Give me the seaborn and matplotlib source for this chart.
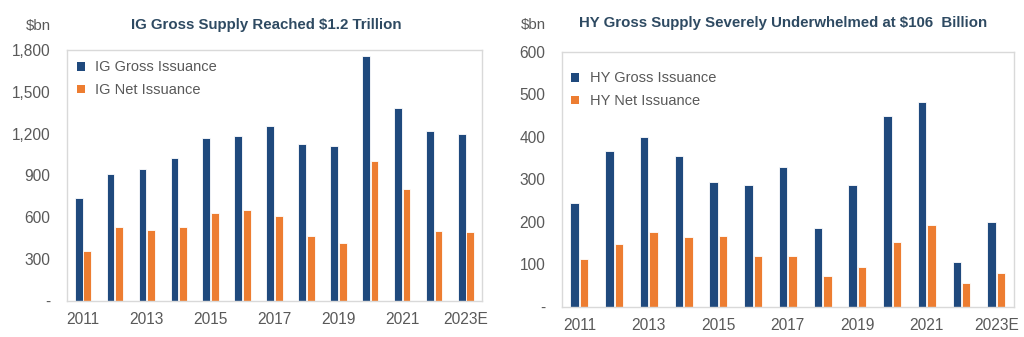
import matplotlib
matplotlib.use("Agg")
import matplotlib.pyplot as plt
import seaborn as sns
import pandas as pd
from matplotlib.ticker import FuncFormatter
from matplotlib.patches import Patch

years = ["2011", "2012", "2013", "2014", "2015", "2016", "2017", "2018",
         "2019", "2020", "2021", "2022", "2023E"]
ig_gross = [740, 912, 945, 1022, 1170, 1180, 1252, 1122, 1108, 1758, 1380, 1215, 1200]
ig_net = [355, 528, 509, 528, 626, 654, 610, 462, 414, 1004, 801, 500, 490]
hy_gross = [244, 367, 400, 355, 293, 286, 328, 186, 286, 449, 482, 106, 199]
hy_net = [112, 147, 175, 164, 166, 119, 119, 72, 93, 152, 192, 55, 79]

ig_title = "IG Gross Supply Reached $1.2 Trillion"
hy_title = "HY Gross Supply Severely Underwhelmed at $106  Billion"
ig_labels = ["IG Gross Issuance", "IG Net Issuance"]
hy_labels = ["HY Gross Issuance", "HY Net Issuance"]
ig_yticks = [0, 300, 600, 900, 1200, 1500, 1800]
hy_yticks = [0, 100, 200, 300, 400, 500, 600]

NAVY = "#1F497D"
ORANGE = "#ED7D31"
GRAY = "#595959"
TITLE_C = "#2E4A62"
BORDER = "#D9D9D9"

sns.set_theme(style="white")
plt.rcParams["font.family"] = ["Liberation Sans", "DejaVu Sans"]

fig = plt.figure(figsize=(10.24, 3.37), dpi=100)
ax1 = fig.add_axes([67 / 1024, 1 - 300.6 / 337, 415 / 1024, 250.6 / 337])
ax2 = fig.add_axes([562 / 1024, 1 - 306.7 / 337, 451.7 / 1024, 254.7 / 337])


def fmt(v, pos):
    return "-" if v == 0 else f"{int(v):,}"


def draw(ax, gross, net, labels, yticks, title, title_x, title_y, leg_y):
    df = pd.DataFrame({
        "year": years * 2,
        "value": gross + net,
        "series": [labels[0]] * len(years) + [labels[1]] * len(years),
    })
    sns.barplot(data=df, x="year", y="value", hue="series", ax=ax,
                palette=[NAVY, ORANGE], width=0.54, gap=0.1,
                edgecolor="white", linewidth=0.6, saturation=1, legend=False)
    ax.set_xlim(-0.5, len(years) - 0.5)
    ax.set_ylim(yticks[0], yticks[-1])
    ax.set_yticks(yticks)
    ax.yaxis.set_major_formatter(FuncFormatter(fmt))
    ax.set_xticks(range(len(years)))
    ax.set_xticklabels([y if i % 2 == 0 else "" for i, y in enumerate(years)])
    ax.set_xlabel("")
    ax.set_ylabel("")
    ax.tick_params(axis="y", length=0, pad=12, labelsize=11.2, labelcolor=GRAY)
    ax.tick_params(axis="x", length=0, pad=8, labelsize=11.2, labelcolor=GRAY)
    for s in ax.spines.values():
        s.set_visible(True)
        s.set_color(BORDER)
        s.set_linewidth(1.0)
    handles = [Patch(facecolor=NAVY, edgecolor="none"),
               Patch(facecolor=ORANGE, edgecolor="none")]
    ax.legend(handles, labels, loc="upper left", frameon=False,
              fontsize=10.5, labelcolor=GRAY, handlelength=0.55,
              handleheight=0.55, handletextpad=0.7, labelspacing=0.6,
              borderaxespad=0.4, bbox_to_anchor=(-0.005, leg_y))
    fig.text(title_x, title_y, title, ha="center", va="center",
             fontsize=10.8, fontweight="bold", color=TITLE_C)


draw(ax1, ig_gross, ig_net, ig_labels, ig_yticks, ig_title, 266 / 1024, 1 - 25 / 337, 1.005)
draw(ax2, hy_gross, hy_net, hy_labels, hy_yticks, hy_title, 783 / 1024, 1 - 23 / 337, 0.97)

fig.text(38 / 1024, 1 - 26 / 337, "$bn", ha="center", va="center",
         fontsize=10.8, color=GRAY)
fig.text(533 / 1024, 1 - 25 / 337, "$bn", ha="center", va="center",
         fontsize=10.8, color=GRAY)

fig.savefig("out.png", dpi=100, facecolor="white")
